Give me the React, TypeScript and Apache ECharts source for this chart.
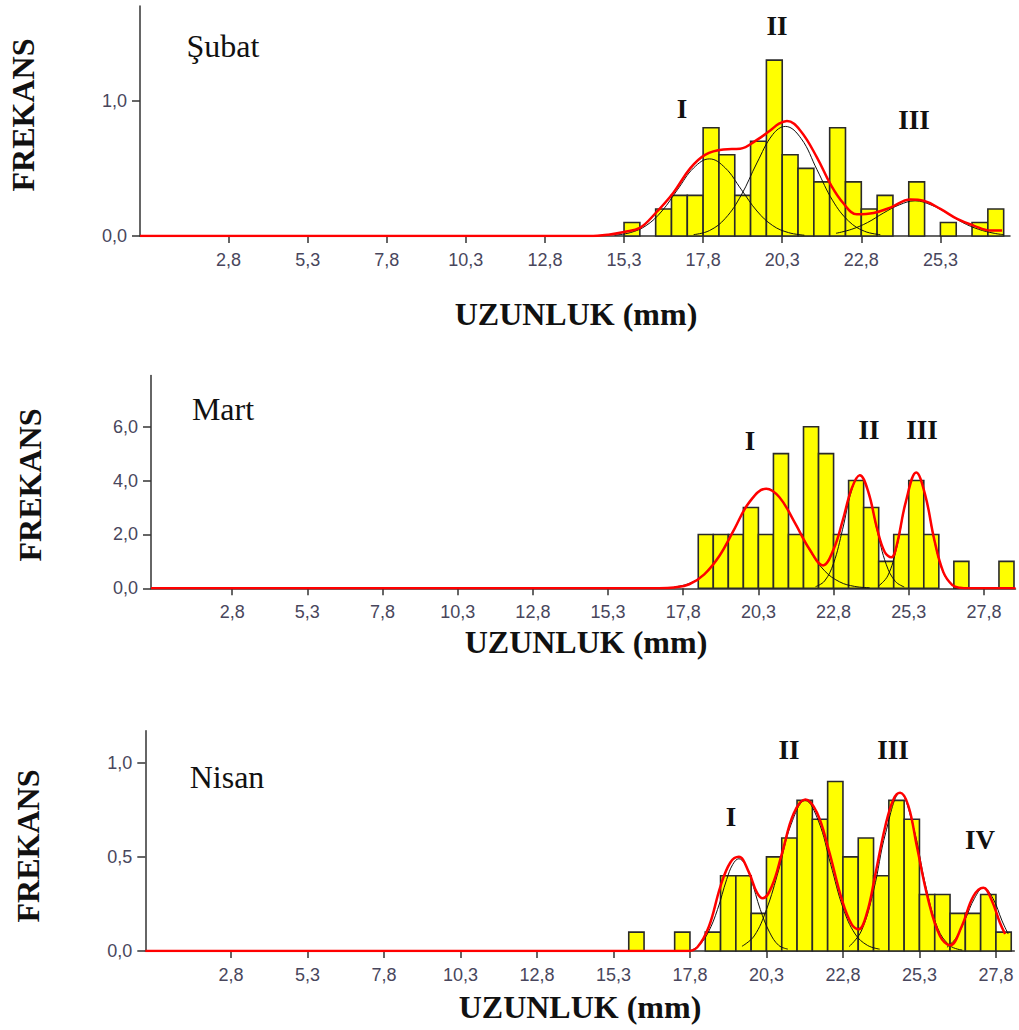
import React, { useEffect, useRef } from "react";
import * as echarts from "echarts";

// ---------- DATA ----------
const binWidth = 0.5;

// Şubat
const subatBinStart = [15.3, 15.8, 16.3, 16.8, 17.3, 17.8, 18.3, 18.8, 19.3, 19.8, 20.3, 20.8, 21.3, 21.8, 22.3, 22.8, 23.3, 23.8, 24.3, 24.8, 25.3, 25.8, 26.3, 26.8];
const subatFreq = [0.1, 0, 0.2, 0.3, 0.3, 0.8, 0.6, 0.3, 0.7, 1.3, 0.6, 0.5, 0.4, 0.8, 0.4, 0.2, 0.3, 0, 0.4, 0, 0.1, 0, 0.1, 0.2];
const subatFit = [[0, 0], [14.2, 0], [14.8, 0.01], [15.3, 0.03], [15.8, 0.06], [16.3, 0.17], [16.86, 0.32], [17.39, 0.5], [17.86, 0.6], [18.44, 0.64], [18.97, 0.645], [19.5, 0.71], [19.92, 0.78], [20.2, 0.83], [20.45, 0.85], [20.87, 0.78], [21.4, 0.58], [21.82, 0.385], [22.24, 0.24], [22.66, 0.16], [23.19, 0.17], [23.72, 0.21], [24.35, 0.27], [24.77, 0.26], [25.3, 0.2], [25.83, 0.126], [26.35, 0.077], [26.88, 0.04], [27.25, 0.04]];
const subatCompI = [[15.0, 0.006], [15.5, 0.025], [16.0, 0.077], [16.5, 0.185], [17.0, 0.346], [17.5, 0.503], [18.0, 0.57], [18.5, 0.503], [19.0, 0.346], [19.5, 0.185], [20.0, 0.077], [20.5, 0.025], [21.0, 0.006]];
const subatCompII = [[17.5, 0.01], [18.0, 0.04], [18.5, 0.13], [19.0, 0.3], [19.5, 0.54], [20.0, 0.75], [20.4, 0.81], [20.9, 0.72], [21.4, 0.49], [21.9, 0.26], [22.4, 0.11], [22.9, 0.035], [23.4, 0.01]];
const subatCompIII = [[22.0, 0.02], [22.5, 0.05], [23.0, 0.1], [23.5, 0.17], [24.0, 0.23], [24.5, 0.26], [25.0, 0.23], [25.5, 0.17], [26.0, 0.1], [26.5, 0.05], [27.0, 0.02], [27.3, 0.01]];
const subatXTicks = [2.8, 5.3, 7.8, 10.3, 12.8, 15.3, 17.8, 20.3, 22.8, 25.3];
const subatYTicks = [0, 1];

// Mart
const martBinStart = [18.3, 18.8, 19.3, 19.8, 20.3, 20.8, 21.3, 21.8, 22.3, 22.8, 23.3, 23.8, 24.3, 24.8, 25.3, 25.8, 26.3, 26.8, 27.3, 27.8, 28.3];
const martFreq = [2, 2, 2, 3, 2, 5, 2, 6, 5, 2, 4, 3, 1, 2, 4, 2, 0, 1, 0, 0, 1];
const martFit = [[0.1, 0], [17.0, 0], [17.5, 0.03], [18.0, 0.15], [18.5, 0.52], [19.0, 1.2], [19.5, 2.2], [20.0, 3.2], [20.56, 3.7], [21.0, 3.38], [21.5, 2.46], [22.0, 1.45], [22.45, 0.85], [22.8, 1.45], [23.1, 2.5], [23.4, 3.7], [23.67, 4.2], [23.95, 3.6], [24.25, 2.2], [24.5, 1.35], [24.72, 1.15], [24.9, 1.6], [25.2, 3.2], [25.55, 4.3], [25.85, 3.45], [26.15, 1.8], [26.45, 0.6], [26.75, 0.12], [27.0, 0.02], [27.3, 0], [28.85, 0]];
const martCompI = [[17.5, 0.05], [18.0, 0.18], [18.5, 0.52], [19.0, 1.2], [19.5, 2.2], [20.0, 3.2], [20.56, 3.7], [21.0, 3.38], [21.5, 2.46], [22.0, 1.42], [22.5, 0.65], [23.0, 0.24], [23.5, 0.07], [24.0, 0.02]];
const martCompII = [[22.2, 0.06], [22.5, 0.27], [22.8, 0.93], [23.1, 2.19], [23.4, 3.63], [23.67, 4.2], [23.95, 3.59], [24.25, 2.14], [24.55, 0.89], [24.85, 0.26], [25.15, 0.05]];
const martCompIII = [[24.3, 0.09], [24.6, 0.46], [24.9, 1.51], [25.2, 3.18], [25.55, 4.3], [25.85, 3.44], [26.15, 1.77], [26.45, 0.58], [26.75, 0.12], [27.0, 0.02]];
const martXTicks = [2.8, 5.3, 7.8, 10.3, 12.8, 15.3, 17.8, 20.3, 22.8, 25.3, 27.8];
const martYTicks = [0, 2, 4, 6];

// Nisan
const nisanBinStart = [15.8, 16.3, 16.8, 17.3, 17.8, 18.3, 18.8, 19.3, 19.8, 20.3, 20.8, 21.3, 21.8, 22.3, 22.8, 23.3, 23.8, 24.3, 24.8, 25.3, 25.8, 26.3, 26.8, 27.3, 27.8];
const nisanFreq = [0.1, 0, 0, 0.1, 0, 0.1, 0.4, 0.4, 0.2, 0.5, 0.6, 0.8, 0.7, 0.9, 0.5, 0.6, 0.4, 0.8, 0.7, 0.3, 0.3, 0.2, 0.2, 0.3, 0.1];
const nisanFit = [[0, 0], [17.7, 0], [18.04, 0.02], [18.42, 0.13], [18.8, 0.345], [19.12, 0.47], [19.4, 0.5], [19.72, 0.42], [19.99, 0.31], [20.18, 0.28], [20.48, 0.345], [20.81, 0.52], [21.19, 0.73], [21.57, 0.805], [21.95, 0.735], [22.33, 0.54], [22.77, 0.27], [23.09, 0.14], [23.31, 0.115], [23.58, 0.2], [23.85, 0.4], [24.18, 0.66], [24.45, 0.805], [24.67, 0.84], [24.94, 0.77], [25.21, 0.56], [25.59, 0.27], [25.97, 0.08], [26.3, 0.03], [26.68, 0.13], [27.06, 0.29], [27.39, 0.336], [27.66, 0.27], [27.93, 0.15], [28.1, 0.09]];
const nisanCompI = [[17.8, 0.0], [18.1, 0.03], [18.4, 0.1], [18.7, 0.22], [19.0, 0.38], [19.2, 0.46], [19.4, 0.49], [19.6, 0.46], [19.8, 0.38], [20.1, 0.22], [20.4, 0.1], [20.7, 0.03], [21.0, 0.01]];
const nisanCompII = [[19.5, 0.025], [19.9, 0.08], [20.3, 0.22], [20.7, 0.43], [21.1, 0.67], [21.57, 0.8], [22.0, 0.69], [22.4, 0.46], [22.8, 0.23], [23.2, 0.09], [23.6, 0.03], [24.0, 0.01]];
const nisanCompIII = [[23.0, 0.023], [23.4, 0.106], [23.8, 0.32], [24.2, 0.63], [24.67, 0.84], [25.1, 0.66], [25.5, 0.35], [25.9, 0.12], [26.3, 0.028], [26.7, 0.005]];
const nisanCompIV = [[26.2, 0.02], [26.5, 0.07], [26.8, 0.17], [27.1, 0.28], [27.39, 0.336], [27.7, 0.28], [28.0, 0.16], [28.2, 0.09]];
const nisanXTicks = [2.8, 5.3, 7.8, 10.3, 12.8, 15.3, 17.8, 20.3, 22.8, 25.3, 27.8];
const nisanYTicks = [0, 0.5, 1];

const monthNames = ["Şubat", "Mart", "Nisan"];
const yAxisTitle = "FREKANS";
const xAxisTitle = "UZUNLUK (mm)";

// ---------- STYLE / LAYOUT ----------
const W = 1019;
const H = 1030;
const labelColor = "#48465c";
const axisColor = "#333";
const serif = '"Liberation Serif", "Times New Roman", serif';
const sans = '"Liberation Sans", Arial, sans-serif';

const grids = [
  { left: 140, top: 6, width: 870, height: 230, xMin: 0, xMax: 27.5, yMax: 1.7 },
  { left: 151, top: 375.5, width: 864.5, height: 212.8, xMin: 0.1, xMax: 28.85, yMax: 7.9 },
  { left: 145.3, top: 730.7, width: 869, height: 220.3, xMin: 0, xMax: 28.4, yMax: 1.17 },
];

const fmt = (v: number) => v.toFixed(1).replace(".", ",");

function App() {
  const ref = useRef<HTMLDivElement>(null);
  useEffect(() => {
    if (!ref.current) return;
    const chart = echarts.init(ref.current, null, { renderer: "svg" });

    const panels = [
      { bins: subatBinStart, freq: subatFreq, fit: subatFit, comps: [subatCompI, subatCompII, subatCompIII], xt: subatXTicks, yt: subatYTicks },
      { bins: martBinStart, freq: martFreq, fit: martFit, comps: [martCompI, martCompII, martCompIII], xt: martXTicks, yt: martYTicks },
      { bins: nisanBinStart, freq: nisanFreq, fit: nisanFit, comps: [nisanCompI, nisanCompII, nisanCompIII, nisanCompIV], xt: nisanXTicks, yt: nisanYTicks },
    ];

    const series: any[] = [];
    panels.forEach((p, i) => {
      series.push({
        type: "custom",
        xAxisIndex: i,
        yAxisIndex: i,
        encode: { x: [0, 1], y: 2 },
        data: p.bins.map((s, k) => [s, s + binWidth, p.freq[k]]),
        renderItem: (params: any, api: any) => {
          const x0 = api.value(0);
          const x1 = api.value(1);
          const v = api.value(2);
          if (!v) return { type: "group", children: [] };
          const a = api.coord([x0, v]);
          const b = api.coord([x1, 0]);
          return {
            type: "rect",
            shape: { x: a[0], y: a[1], width: b[0] - a[0], height: b[1] - a[1] },
            style: { fill: "#ffff00", stroke: "#2a2a2a", lineWidth: 1.6 },
          };
        },
        z: 2,
      });
      p.comps.forEach((c) => {
        series.push({
          type: "line",
          xAxisIndex: i,
          yAxisIndex: i,
          data: c,
          smooth: 0.4,
          showSymbol: false,
          lineStyle: { color: "#111", width: 1 },
          z: 3,
        });
      });
      series.push({
        type: "line",
        xAxisIndex: i,
        yAxisIndex: i,
        data: p.fit,
        smooth: 0.4,
        showSymbol: false,
        lineStyle: { color: "#ff0000", width: 2.5 },
        z: 4,
      });
    });

    const texts: any[] = [];
    const addText = (text: string, x: number, y: number, font: string, rotation = 0) => {
      texts.push({
        type: "text",
        x,
        y,
        rotation,
        style: {
          text,
          font,
          fill: "#111",
          textAlign: "center",
          textVerticalAlign: "middle",
          align: "center",
          verticalAlign: "middle",
        },
      });
    };
    const titleFont = `bold 32px ${serif}`;
    const monthFont = `32px ${serif}`;
    const romanFont = `bold 27px ${serif}`;

    addText(yAxisTitle, 23, 115, titleFont, Math.PI / 2);
    addText(yAxisTitle, 30, 485, titleFont, Math.PI / 2);
    addText(yAxisTitle, 28, 846, titleFont, Math.PI / 2);
    addText(xAxisTitle, 576, 314, titleFont);
    addText(xAxisTitle, 586, 642, titleFont);
    addText(xAxisTitle, 580, 1007, titleFont);
    addText(monthNames[0], 223, 46, monthFont);
    addText(monthNames[1], 223, 409, monthFont);
    addText(monthNames[2], 227, 777, monthFont);
    addText("I", 682, 109, romanFont);
    addText("II", 777, 26, romanFont);
    addText("III", 914, 120, romanFont);
    addText("I", 750, 441, romanFont);
    addText("II", 869, 430, romanFont);
    addText("III", 922, 430, romanFont);
    addText("I", 731, 817, romanFont);
    addText("II", 789, 750, romanFont);
    addText("III", 893, 750, romanFont);
    addText("IV", 980, 840, romanFont);

    chart.setOption({
      animation: false,
      grid: grids.map((g) => ({ left: g.left, top: g.top, width: g.width, height: g.height, containLabel: false, outerBoundsMode: "none" })),
      xAxis: panels.map((p, i) => ({
        type: "value",
        gridIndex: i,
        min: grids[i].xMin,
        max: grids[i].xMax,
        splitLine: { show: false },
        axisLine: { show: true, onZero: false, lineStyle: { color: axisColor, width: 1.5 } },
        axisTick: { show: true, length: 7, customValues: p.xt, lineStyle: { color: axisColor, width: 1.5 } },
        axisLabel: { customValues: p.xt, formatter: fmt, margin: 15, color: labelColor, fontSize: 18, fontFamily: sans },
      })),
      yAxis: panels.map((p, i) => ({
        type: "value",
        gridIndex: i,
        min: 0,
        max: grids[i].yMax,
        splitLine: { show: false },
        axisLine: { show: true, onZero: false, lineStyle: { color: axisColor, width: 1.5 } },
        axisTick: { show: true, length: 8, customValues: p.yt, lineStyle: { color: axisColor, width: 1.5 } },
        axisLabel: { customValues: p.yt, formatter: fmt, margin: 13, color: labelColor, fontSize: 18, fontFamily: sans },
      })),
      series,
      graphic: texts,
    });

    return () => chart.dispose();
  }, []);

  return (
    <div
      ref={ref}
      style={{ position: "absolute", left: 0, top: 0, width: W, height: H, background: "#fff" }}
    />
  );
}

export default App;
